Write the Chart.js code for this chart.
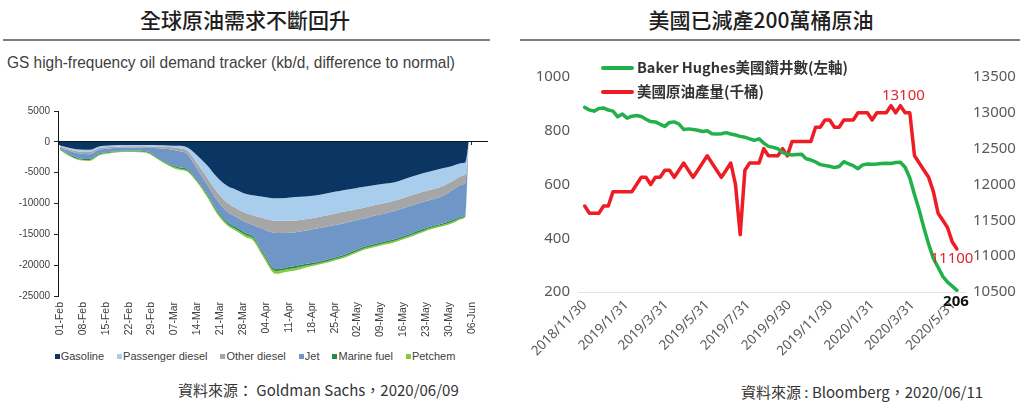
<!DOCTYPE html>
<html><head><meta charset="utf-8">
<script src="https://cdn.jsdelivr.net/npm/chart.js@4.4.1/dist/chart.umd.min.js"></script>
<style>
html,body{margin:0;padding:0;background:#fff;}
body{width:1024px;height:407px;position:relative;overflow:hidden;font-family:"Noto Sans CJK TC","Noto Sans",sans-serif;}
.title{position:absolute;top:4px;height:30px;line-height:30px;font-size:21px;font-weight:500;color:#1e1e1e;text-align:center;white-space:nowrap;}
.rule{position:absolute;top:39px;height:2px;background:#7f7f7f;}
#sub{position:absolute;left:7px;top:52px;font-family:"Liberation Sans Narrow","Liberation Sans",Arial,sans-serif;font-size:17px;line-height:22px;color:#404040;white-space:nowrap;transform-origin:0 50%;}
.foot{position:absolute;font-size:15px;line-height:20px;color:#333;white-space:nowrap;}
canvas{position:absolute;display:block;}
#lg1{position:absolute;left:0;width:510px;top:347px;height:18px;line-height:18px;text-align:center;white-space:nowrap;font-family:"Liberation Sans",Arial,sans-serif;font-size:11px;color:#404040;}
#lg1 span.it{display:inline-block;margin:0 6.5px;}
#lg1 span.bx{display:inline-block;width:5px;height:5px;margin-right:1px;vertical-align:middle;position:relative;top:-1px;}
#lg2{position:absolute;left:601px;top:55px;}
.li{position:absolute;left:0;height:24px;line-height:24px;white-space:nowrap;font-size:14.5px;font-weight:bold;color:#333;}
.li i{display:inline-block;width:33px;height:4px;border-radius:2px;vertical-align:middle;margin-right:3px;position:relative;top:-1px;}
</style></head>
<body>
<div class="title" style="left:0;width:490px;">全球原油需求不斷回升</div>
<div class="rule" style="left:3px;width:487px;"></div>
<div class="title" style="left:511px;width:500px;">美國已減產200萬桶原油</div>
<div class="rule" style="left:520px;width:500px;"></div>
<div id="sub">GS high-frequency oil demand tracker (kb/d, difference to normal)</div>
<canvas id="cL" width="500" height="240" style="left:0;top:100px;"></canvas>
<div id="lg1"></div>
<canvas id="cR" width="504" height="300" style="left:520px;top:60px;"></canvas>
<div id="lg2"></div>
<div class="foot" style="left:178px;top:380px;">資料來源： Goldman Sachs，2020/06/09</div>
<div class="foot" style="left:741px;top:382px;">資料來源 : Bloomberg，2020/06/11</div>
<script>
// ================= LEFT: GS high-frequency oil demand tracker (kb/d) =================
// day number counted from 01-Feb-2020
const demandDays = [0,3,6,9,12,15,18,21,24,27,30,33,36,39,42,45,48,51,54,57,59,62,66,69,72,75,78,81,84,87,90,93,96,99,102,105,108,111,114,117,120,123,124,125];
const gasoline        = [-600,-1000,-1250,-1300,-750,-600,-520,-500,-500,-520,-550,-580,-650,-900,-2200,-3800,-5700,-7100,-7800,-8450,-8650,-8900,-9150,-9100,-8950,-8850,-8700,-8400,-8100,-7800,-7550,-7300,-7050,-6800,-6600,-6100,-5600,-5100,-4700,-4300,-3900,-3450,-3300,-200];
const passengerDiesel = [-150,-250,-350,-350,-250,-250,-220,-200,-200,-220,-250,-270,-350,-550,-1300,-2000,-2400,-2700,-3000,-3150,-3250,-3450,-3650,-3700,-3800,-3700,-3600,-3600,-3550,-3500,-3450,-3400,-3250,-3150,-3000,-3000,-3000,-3000,-3000,-2900,-2500,-2050,-1900,-100];
const otherDiesel     = [-150,-250,-300,-350,-300,-250,-230,-230,-250,-280,-250,-300,-450,-550,-900,-1100,-1300,-1400,-1400,-1500,-1600,-1750,-2000,-2000,-1900,-1850,-1800,-1800,-1850,-1900,-1800,-1750,-1700,-1700,-1650,-1650,-1650,-1600,-1600,-1600,-1400,-1400,-1400,0];
const jet             = [-250,-550,-800,-800,-600,-550,-500,-490,-500,-600,-1500,-2350,-2650,-2450,-1800,-1500,-1700,-1700,-1700,-1750,-1800,-3700,-5850,-5600,-5500,-5400,-5450,-5400,-5250,-5100,-4850,-4550,-4600,-4550,-4600,-4550,-4500,-4450,-4350,-4450,-4900,-5200,-5100,0];
const marineFuel      = [-100,-150,-150,-150,-150,-120,-110,-110,-120,-140,-150,-150,-200,-200,-200,-250,-250,-300,-300,-300,-300,-300,-300,-300,-300,-300,-250,-250,-250,-250,-250,-250,-250,-250,-250,-250,-250,-250,-200,-200,-250,-200,-200,0];
const petchem         = [-100,-150,-150,-150,-150,-130,-120,-120,-130,-140,-150,-150,-200,-200,-250,-300,-300,-300,-300,-350,-350,-400,-450,-400,-400,-300,-250,-250,-250,-250,-250,-250,-250,-250,-250,-250,-250,-250,-250,-250,-250,-200,-200,0];
const demandNames  = ['Gasoline','Passenger diesel','Other diesel','Jet','Marine fuel','Petchem'];
const demandColors = ['#0b3562','#a9cdec','#a6a6a6','#7096c8','#1e8b4c','#8dc63f'];
const demandTickDays   = [0,7,14,21,28,35,42,49,56,63,70,77,84,91,98,105,112,119,126];
const demandTickLabels = ['01-Feb','08-Feb','15-Feb','22-Feb','29-Feb','07-Mar','14-Mar','21-Mar','28-Mar','04-Apr','11-Apr','18-Apr','25-Apr','02-May','09-May','16-May','23-May','30-May','06-Jun'];
const demandYTicks = {min:-25000, max:5000, step:5000};

// ================= RIGHT: Baker Hughes rigs & US crude output (weekly from 2018/11/30) =================
const rigCount = [887,877,873,883,885,877,873,852,862,847,854,857,853,843,834,833,824,816,831,833,825,805,807,805,802,797,800,789,788,789,793,788,784,779,776,770,764,770,754,742,738,733,719,713,710,712,713,696,691,684,674,671,668,663,667,685,677,670,659,673,676,675,676,678,679,678,682,683,664,624,562,504,438,378,325,292,258,237,222,206];
const crudeOutput = [11700,11600,11600,11600,11700,11700,11900,11900,11900,11900,11900,12000,12100,12100,12000,12100,12100,12200,12200,12100,12200,12300,12200,12100,12200,12300,12400,12300,12200,12100,12200,12300,12000,11300,12200,12300,12300,12300,12500,12400,12400,12400,12500,12400,12600,12600,12600,12600,12600,12800,12800,12900,12900,12800,12800,12900,12900,12900,13000,13000,13000,12900,13000,13000,13000,13100,13000,13100,13000,13000,12400,12300,12200,12100,11900,11600,11500,11400,11200,11100];
const weekDays = rigCount.map((_, i) => i * 7); // days since 2018/11/30
const seriesNames  = ['Baker Hughes美國鑽井數(左軸)','美國原油產量(千桶)'];
const seriesColors = ['#22b04b','#ee1c24'];
const dateTickDays   = [0,62,121,182,243,304,365,427,487,548];
const dateTickLabels = ['2018/11/30','2019/1/31','2019/3/31','2019/5/31','2019/7/31','2019/9/30','2019/11/30','2020/1/31','2020/3/31','2020/5/31'];

// ---- subtitle width fit ----
(function(){const s=document.getElementById('sub');const w=s.getBoundingClientRect().width;s.style.transform='scaleX('+(448/w)+')';})();

const plainNum = v => String(v);

// ================= LEFT CHART =================
const demandSeries = [gasoline,passengerDiesel,otherDiesel,jet,marineFuel,petchem];
const toPts = (xs, ys) => xs.map((x, i) => ({x: x, y: ys[i]}));
const tickFontL = {family:'"Liberation Sans", Arial, sans-serif', size:10};
new Chart(document.getElementById('cL'), {
  type:'line',
  data:{datasets: demandSeries.map((s, i) => ({
    label: demandNames[i], data: toPts(demandDays, s),
    backgroundColor: demandColors[i], borderColor: demandColors[i], borderWidth: 0,
    fill: i === 0 ? 'origin' : '-1', pointRadius: 0, cubicInterpolationMode: 'monotone'
  }))},
  options:{
    responsive:false, animation:false, events:[],
    layout:{padding:{top:11, right:13, left:0, bottom:0}},
    plugins:{legend:{display:false}, tooltip:{enabled:false}},
    scales:{
      x:{type:'linear', min:-0.6, max:130.6,
        afterBuildTicks: s => { s.ticks = demandTickDays.map(v => ({value:v})); },
        afterFit: s => { s.height = 44; },
        ticks:{autoSkip:false, minRotation:90, maxRotation:90, padding:6, color:'#404040', font:{family:'"Liberation Sans", Arial, sans-serif', size:10.5},
          callback:(v, i) => demandTickLabels[i]},
        grid:{display:false, drawTicks:false}, border:{display:false}},
      x2:{type:'linear', position:{y:0}, min:-0.6, max:130.6,
        afterBuildTicks: s => { s.ticks = demandTickDays.map(v => ({value:v})); },
        ticks:{display:false},
        grid:{drawOnChartArea:false, drawTicks:true, tickLength:3, color:'#222'},
        border:{display:true, color:'#111', width:1}},
      y:{stacked:true, min:demandYTicks.min, max:demandYTicks.max,
        afterFit: s => { s.width = 58; },
        ticks:{stepSize:demandYTicks.step, padding:4, color:'#404040', font:tickFontL, callback:plainNum},
        grid:{drawOnChartArea:false, drawTicks:true, tickLength:4, color:'#222'},
        border:{display:true, color:'#111', width:1}}
    }
  }
});

// ---- left legend (HTML) ----
const lg1 = document.getElementById('lg1');
demandNames.forEach((n, i) => {
  const it = document.createElement('span'); it.className = 'it';
  const bx = document.createElement('span'); bx.className = 'bx'; bx.style.background = demandColors[i];
  it.appendChild(bx); it.appendChild(document.createTextNode(n));
  lg1.appendChild(it);
});

// ================= RIGHT CHART =================
const endLabels = {
  id:'endLabels',
  afterDatasetsDraw(chart){
    const ctx = chart.ctx;
    const items = [
      {ds:1, idx: crudeOutput.lastIndexOf(Math.max(...crudeOutput)), dx:3, dy:-10, color:'#e0262c', bold:false},
      {ds:1, idx: crudeOutput.length - 1, dx:-5, dy:10, color:'#e0262c', bold:false},
      {ds:0, idx: rigCount.length - 1, dx:-1, dy:11, color:'#111', bold:true}
    ];
    ctx.save();
    items.forEach(it => {
      const el = chart.getDatasetMeta(it.ds).data[it.idx];
      const val = chart.data.datasets[it.ds].data[it.idx].y;
      ctx.font = (it.bold ? 'bold ' : '') + '15px "Noto Sans", sans-serif';
      ctx.fillStyle = it.color; ctx.textAlign = 'center'; ctx.textBaseline = 'middle';
      ctx.fillText(String(val), el.x + it.dx, el.y + it.dy);
    });
    ctx.restore();
  }
};
const tickFontR = {family:'"Noto Sans", sans-serif', size:15};
new Chart(document.getElementById('cR'), {
  type:'line',
  data:{datasets:[
    {label:seriesNames[0], data:toPts(weekDays, rigCount), yAxisID:'y', borderColor:seriesColors[0], backgroundColor:seriesColors[0], borderWidth:3.5, pointRadius:0, fill:false, tension:0, borderJoinStyle:'round', borderCapStyle:'round'},
    {label:seriesNames[1], data:toPts(weekDays, crudeOutput), yAxisID:'y1', borderColor:seriesColors[1], backgroundColor:seriesColors[1], borderWidth:3.5, pointRadius:0, fill:false, tension:0, borderJoinStyle:'round', borderCapStyle:'round'}
  ]},
  options:{
    responsive:false, animation:false, events:[],
    layout:{padding:{top:17, right:0, left:0, bottom:0}},
    plugins:{legend:{display:false}, tooltip:{enabled:false}},
    scales:{
      x:{type:'linear', min:-10, max:565,
        afterBuildTicks: s => { s.ticks = dateTickDays.map(v => ({value:v})); },
        afterFit: s => { s.height = 68; },
        ticks:{autoSkip:false, minRotation:45, maxRotation:45, padding:5, color:'#595959', font:{family:'"Noto Sans", sans-serif', size:13.5},
          callback:(v, i) => dateTickLabels[i]},
        grid:{display:false, drawTicks:false}, border:{display:true, color:'#e3e3e3', width:1}},
      y:{position:'left', min:200, max:1000,
        afterFit: s => { s.width = 58; },
        ticks:{stepSize:200, padding:8, color:'#595959', font:tickFontR, callback:plainNum},
        grid:{display:false, drawTicks:false}, border:{display:false}},
      y1:{position:'right', min:10500, max:13500,
        afterFit: s => { s.width = 59; },
        ticks:{stepSize:500, padding:8, color:'#595959', font:tickFontR, callback:plainNum},
        grid:{display:false, drawTicks:false}, border:{display:false}}
    }
  },
  plugins:[endLabels]
});

// ---- right legend (HTML) ----
const lg = document.getElementById('lg2');
seriesNames.forEach((n, i) => {
  const d = document.createElement('div');
  d.className = 'li'; d.style.top = (i * 24) + 'px';
  const sw = document.createElement('i'); sw.style.background = seriesColors[i];
  d.appendChild(sw); d.appendChild(document.createTextNode(n));
  lg.appendChild(d);
});
</script>
</body></html>
